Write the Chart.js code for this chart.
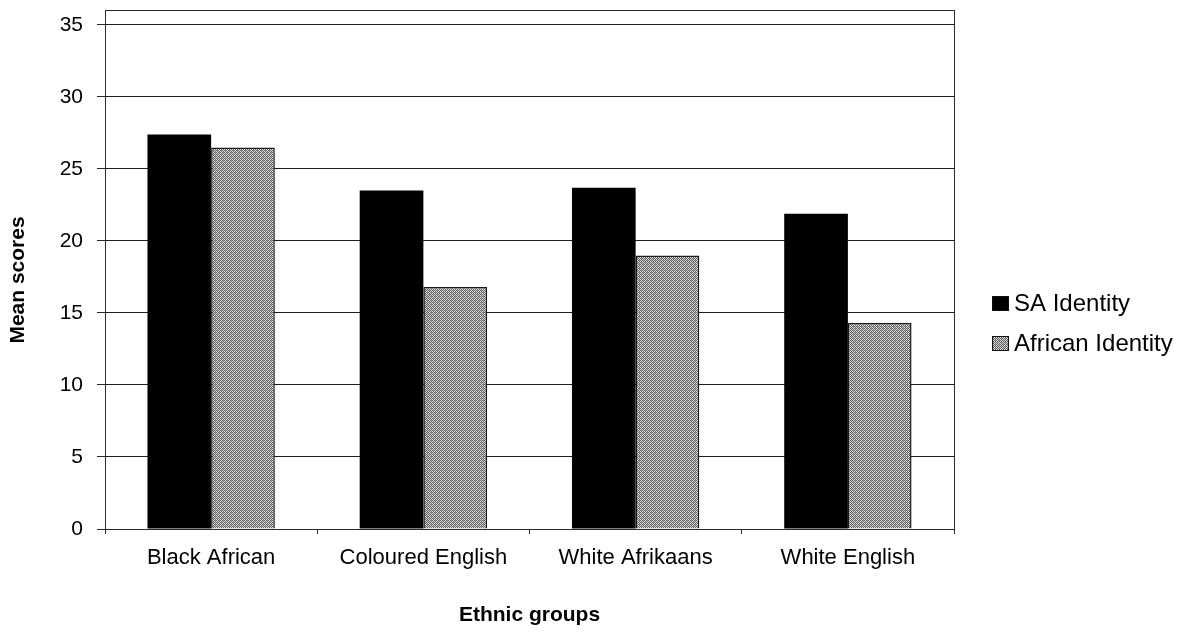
<!DOCTYPE html>
<html>
<head>
<meta charset="utf-8">
<script src="https://cdn.jsdelivr.net/npm/chart.js@4/dist/chart.umd.min.js"></script>
<style>
  html, body { margin: 0; padding: 0; background: #fff; }
  #wrap { width: 1195px; height: 636px; position: relative; }
</style>
</head>
<body>
<div id="wrap"><canvas id="c" width="1195" height="636"></canvas></div>
<script>
// Mean identity scores per ethnic group
const categories = ['Black African', 'Coloured English', 'White Afrikaans', 'White English'];
const seriesNames = ['SA Identity', 'African Identity'];
const saIdentity = [27.4, 23.5, 23.7, 21.9];
const africanIdentity = [26.5, 16.8, 19.0, 14.3];
const yTicks = [0, 5, 10, 15, 20, 25, 30, 35];
const yTitle = 'Mean scores';
const xTitle = 'Ethnic groups';

const FONT = "'Liberation Sans', Arial, sans-serif";

// Fine dithered grey fill for the second series
function ditherPattern() {
  const p = document.createElement('canvas');
  p.width = 4; p.height = 4;
  const g = p.getContext('2d');
  g.fillStyle = '#e4e4e4';
  g.fillRect(0, 0, 4, 4);
  g.fillStyle = '#5e5e5e';
  const dots = [[0,0],[2,0],[1,1],[3,1],[0,2],[2,2],[3,3],[1,3]];
  dots.forEach(([x, y]) => g.fillRect(x, y, 1, 1));
  g.fillStyle = '#9a9a9a';
  g.fillRect(1, 2, 1, 1);
  g.fillRect(3, 0, 1, 1);
  return g.createPattern(p, 'repeat');
}

const ctx = document.getElementById('c').getContext('2d');
const greyFill = ditherPattern();

// Frame round the plot area
const plotFrame = {
  id: 'plotFrame',
  afterDatasetsDraw(chart) {
    const a = chart.chartArea;
    const c = chart.ctx;
    c.save();
    c.strokeStyle = '#2a2a2a';
    c.lineWidth = 1;
    c.strokeRect(Math.round(a.left) + 0.5, Math.round(a.top) + 0.5,
                 Math.round(a.right - a.left), Math.round(a.bottom - a.top));
    c.restore();
  }
};

// Vertical axis title, set a little below the plot's middle
const yAxisTitle = {
  id: 'yAxisTitle',
  afterDraw(chart) {
    const c = chart.ctx;
    c.save();
    c.translate(18, 280);
    c.rotate(-Math.PI / 2);
    c.font = 'bold 21px ' + FONT;
    c.fillStyle = '#000';
    c.textAlign = 'center';
    c.textBaseline = 'middle';
    c.fillText(yTitle, 0, 0);
    c.restore();
  }
};

// Legend drawn beside the plot, one row per dataset
const sideLegend = {
  id: 'sideLegend',
  afterDraw(chart) {
    const c = chart.ctx;
    const x0 = chart.chartArea.right + 38;
    const rows = [303, 343];
    c.save();
    c.font = '24px ' + FONT;
    c.textBaseline = 'middle';
    c.textAlign = 'left';
    chart.data.datasets.forEach((ds, i) => {
      const y = rows[i];
      c.fillStyle = ds.backgroundColor;
      c.fillRect(x0, y - 7, 17, 15);
      c.strokeStyle = '#111';
      c.lineWidth = 1;
      c.strokeRect(x0 + 0.5, y - 6.5, 16, 14);
      c.fillStyle = '#000';
      c.fillText(ds.label, x0 + 22, y + 1);
    });
    c.restore();
  }
};

new Chart(ctx, {
  type: 'bar',
  data: {
    labels: categories,
    datasets: [
      {
        label: seriesNames[0],
        data: saIdentity,
        backgroundColor: '#000000',
        borderColor: '#000000',
        borderWidth: 0
      },
      {
        label: seriesNames[1],
        data: africanIdentity,
        backgroundColor: greyFill,
        borderColor: '#1a1a1a',
        borderWidth: 1.5
      }
    ]
  },
  options: {
    responsive: false,
    animation: false,
    events: [],
    layout: { padding: { top: 10, right: 241, left: 0, bottom: 0 } },
    datasets: {
      bar: { categoryPercentage: 0.6, barPercentage: 1.0 }
    },
    plugins: {
      legend: { display: false },
      tooltip: { enabled: false }
    },
    scales: {
      x: {
        afterFit(scale) {
          scale.height = 107;
          scale.paddingLeft = 0;
          scale.paddingRight = 0;
        },
        grid: {
          offset: true,
          drawOnChartArea: false,
          drawTicks: true,
          tickLength: 5,
          tickColor: '#2a2a2a',
          tickWidth: 1
        },
        border: { display: true, color: '#2a2a2a', width: 1 },
        ticks: {
          color: '#000',
          font: { family: FONT, size: 22 },
          padding: 11,
          maxRotation: 0
        },
        title: {
          display: true,
          text: xTitle,
          color: '#000',
          font: { family: FONT, size: 21, weight: 'bold' },
          padding: { top: 0, bottom: 8 }
        }
      },
      y: {
        min: 0,
        max: 36.04,
        afterFit(scale) {
          scale.width = 105;
          scale.paddingTop = 0;
          scale.paddingBottom = 0;
        },
        afterBuildTicks(scale) {
          scale.ticks = yTicks.map(v => ({ value: v }));
        },
        grid: {
          color: '#1e1e1e',
          lineWidth: 1,
          drawTicks: true,
          tickLength: 8,
          tickColor: '#2a2a2a'
        },
        border: { display: true, color: '#2a2a2a', width: 1 },
        ticks: {
          color: '#000',
          font: { family: FONT, size: 21 },
          padding: 14
        }
      }
    }
  },
  plugins: [plotFrame, yAxisTitle, sideLegend]
});
</script>
</body>
</html>
